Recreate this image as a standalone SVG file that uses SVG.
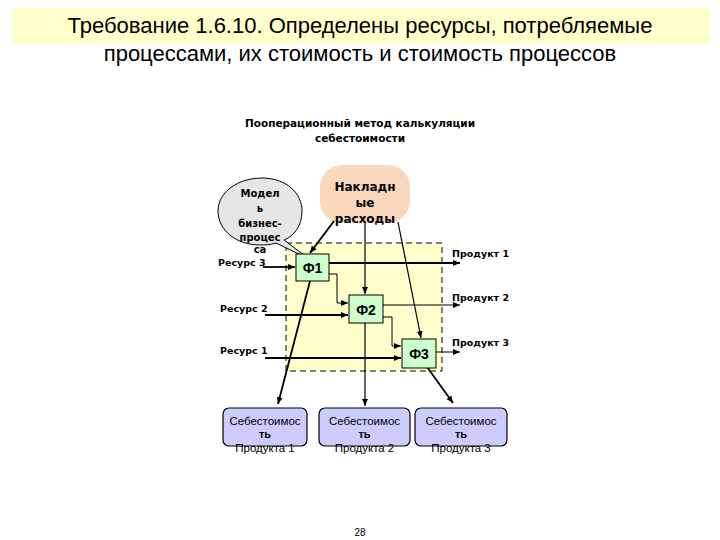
<svg xmlns="http://www.w3.org/2000/svg" width="720" height="540" viewBox="0 0 720 540">
<style>
.t{font-family:"Liberation Sans",Arial,sans-serif;fill:#000}
.d{font-family:"DejaVu Sans",Verdana,sans-serif;fill:#000;font-weight:bold}
.title{font-size:22px;text-anchor:middle}
.b{font-size:10px}
.c{text-anchor:middle}
.fn{fill:#CCFFCC;stroke:#000;stroke-width:1}
.cost{fill:#CCCCFF;stroke:#000;stroke-width:1.2}
.ln{stroke:#000;fill:none}
</style>
<defs>
<marker id="ah" markerWidth="8" markerHeight="8" refX="7" refY="4" orient="auto" markerUnits="userSpaceOnUse">
<path d="M0,1 L7,4 L0,7 Z" fill="#000"/>
</marker>
</defs>
<rect width="720" height="540" fill="#fff"/>
<g id="title">
<rect x="12" y="8" width="698" height="36" fill="#FFFFCC"/>
<text class="t title" x="360" y="33">Требование 1.6.10. Определены ресурсы, потребляемые</text>
<text class="t title" x="360" y="61">процессами, их стоимость и стоимость процессов</text>
</g>
<g id="subtitle">
<text class="d b c" style="font-size:10.5px" x="360" y="127">Пооперационный метод калькуляции</text>
<text class="d b c" style="font-size:10.5px" x="360" y="142">себестоимости</text>
</g>
<g id="frame">
<rect x="286" y="243" width="156" height="128" fill="#FFFFCC" stroke="#000" stroke-dasharray="6,4"/>
</g>
<g id="overhead">
<rect x="320" y="165" width="90" height="58" rx="22" fill="#FAD8BE"/>
<text class="d c" style="font-size:12px" x="365" y="191">Накладн</text>
<text class="d c" style="font-size:12px" x="365" y="207">ые</text>
<text class="d c" style="font-size:12px" x="365" y="223">расходы</text>
</g>
<g id="model">
<path d="M262,178 C286,178 302,193 302,211 C302,226 294,236 284,240 L309,259 L276,243 C270,245 265,245 260,245 C236,245 218,230 218,211 C218,192 238,178 262,178 Z" fill="#E6E6E6" stroke="#000" stroke-width="1"/>
<text class="d b c" x="260" y="197">Модел</text>
<text class="d b c" x="260" y="212">ь</text>
<text class="d b c" x="260" y="227">бизнес-</text>
<text class="d b c" x="260" y="241">процес</text>
<text class="d b c" x="260" y="253">са</text>
</g>
<g id="connectors">
<line class="ln" stroke-width="1.8" x1="263" y1="267" x2="295" y2="267" marker-end="url(#ah)"/>
<line class="ln" stroke-width="1.8" x1="265" y1="315" x2="348" y2="315" marker-end="url(#ah)"/>
<line class="ln" stroke-width="1.8" x1="265" y1="358" x2="401" y2="358" marker-end="url(#ah)"/>
<line class="ln" stroke-width="1.8" x1="329" y1="263" x2="460" y2="263" marker-end="url(#ah)"/>
<line class="ln" stroke-width="1" x1="383" y1="305" x2="460" y2="305" marker-end="url(#ah)"/>
<line class="ln" stroke-width="1" x1="436" y1="352" x2="460" y2="352" marker-end="url(#ah)"/>
<polyline class="ln" stroke-width="1" points="329,274 337,274 337,303 348,303" marker-end="url(#ah)"/>
<polyline class="ln" stroke-width="1" points="383,317 392,317 392,346 401,346" marker-end="url(#ah)"/>
<line class="ln" stroke-width="1.8" x1="334" y1="221" x2="310" y2="253" marker-end="url(#ah)"/>
<line class="ln" stroke-width="1.2" x1="365" y1="222" x2="365" y2="294" marker-end="url(#ah)"/>
<line class="ln" stroke-width="1.2" x1="398" y1="222" x2="421" y2="338" marker-end="url(#ah)"/>
<line class="ln" stroke-width="1.8" x1="310" y1="281" x2="278" y2="404" marker-end="url(#ah)"/>
<line class="ln" stroke-width="1.2" x1="365" y1="323" x2="365" y2="406" marker-end="url(#ah)"/>
<line class="ln" stroke-width="1.8" x1="427" y1="367" x2="453" y2="403" marker-end="url(#ah)"/>
</g>
<g id="f1">
<rect class="fn" x="296" y="254" width="33" height="27"/>
<text class="t c" style="font-size:14px;font-weight:bold" x="312.5" y="272.5">Ф1</text>
</g>
<g id="f2">
<rect class="fn" x="349" y="295" width="34" height="28"/>
<text class="t c" style="font-size:14px;font-weight:bold" x="366" y="314.5">Ф2</text>
</g>
<g id="f3">
<rect class="fn" x="402" y="339" width="34" height="29"/>
<text class="t c" style="font-size:14px;font-weight:bold" x="419" y="358.5">Ф3</text>
</g>
<g id="labels">
<text class="d" style="font-size:9.5px" x="218" y="265.5">Ресурс 3</text>
<text class="d" style="font-size:9.5px" x="220" y="312">Ресурс 2</text>
<text class="d" style="font-size:9.5px" x="220" y="354">Ресурс 1</text>
<text class="d" style="font-size:9.5px" x="452" y="257">Продукт 1</text>
<text class="d" style="font-size:9.5px" x="452" y="301">Продукт 2</text>
<text class="d" style="font-size:9.5px" x="452" y="346">Продукт 3</text>
</g>
<g id="cost1">
<rect class="cost" x="223" y="408" width="84" height="38" rx="6"/>
<text class="t c" style="font-size:11.5px" x="265" y="425">Себестоимос</text>
<text class="t c" style="font-size:11px;font-weight:bold" x="265" y="438">ть</text>
<text class="t c" style="font-size:11.5px" x="265" y="451.5">Продукта 1</text>
</g>
<g id="cost2">
<rect class="cost" x="319" y="408" width="91" height="38" rx="6"/>
<text class="t c" style="font-size:11.5px" x="364.5" y="425">Себестоимос</text>
<text class="t c" style="font-size:11px;font-weight:bold" x="364.5" y="438">ть</text>
<text class="t c" style="font-size:11.5px" x="364.5" y="451.5">Продукта 2</text>
</g>
<g id="cost3">
<rect class="cost" x="415" y="408" width="92" height="38" rx="6"/>
<text class="t c" style="font-size:11.5px" x="461" y="425">Себестоимос</text>
<text class="t c" style="font-size:11px;font-weight:bold" x="461" y="438">ть</text>
<text class="t c" style="font-size:11.5px" x="461" y="451.5">Продукта 3</text>
</g>
<text class="t c" style="font-size:10px" x="360" y="536">28</text>
</svg>
